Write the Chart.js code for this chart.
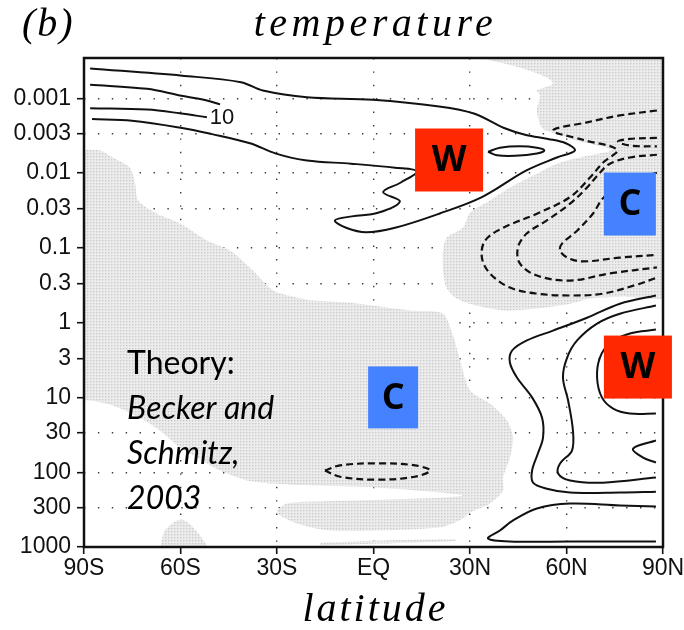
<!DOCTYPE html>
<html>
<head>
<meta charset="utf-8">
<script src="https://cdn.jsdelivr.net/npm/chart.js@4.4.1/dist/chart.umd.min.js"></script>
<style>
  html, body { margin: 0; padding: 0; background: #fff; }
</style>
</head>
<body>
<canvas id="chart" width="684" height="630"></canvas>
<script>
'use strict';

// axes
const latTicks = [-90, -60, -30, 0, 30, 60, 90];
const latLabels = ['90S', '60S', '30S', 'EQ', '30N', '60N', '90N'];
const pressureTicks = [0.001, 0.003, 0.01, 0.03, 0.1, 0.3, 1, 3, 10, 30, 100, 300, 1000];
const pressureLabels = ['0.001', '0.003', '0.01', '0.03', '0.1', '0.3', '1', '3', '10', '30', '100', '300', '1000'];
const pressureTop = 0.00029;
const pressureBottom = 1000;

// solid contours, [latitude, pressure]
const tongueOuter = [
  [-88.1, 0.0004], [-59.5, 0.0005], [-41.2, 0.00061], [-34.4, 0.00079], [-20.7, 0.00097],
  [-0.2, 0.00105], [20.4, 0.00129], [31.2, 0.0016], [40.6, 0.0025], [47.4, 0.0031],
  [54.3, 0.0035], [59.8, 0.004], [62.6, 0.005], [57.0, 0.0062], [47.4, 0.0093],
  [33.7, 0.021], [20.4, 0.035], [6.7, 0.054], [-2.3, 0.062], [-8.5, 0.054],
  [-12.0, 0.043], [-6.7, 0.038], [1.4, 0.034], [8.2, 0.024], [3.0, 0.018],
  [8.5, 0.0134], [13.5, 0.0095], [6.7, 0.0085], [-7.0, 0.0075], [-20.7, 0.0068],
  [-30.3, 0.0055], [-38.4, 0.004], [-50.5, 0.003], [-59.5, 0.0025], [-75.1, 0.002],
  [-87.5, 0.0019]
];
const hairpinUpper = [[-88.1, 0.00066], [-70.4, 0.00075], [-60.2, 0.00092], [-51.8, 0.00107], [-47.7, 0.00121]];
const hairpinLower = [[-51.8, 0.0018], [-60.2, 0.00159], [-70.4, 0.00142], [-88.1, 0.00136]];
const tipLoop = [
  [35.6, 0.0052], [39.3, 0.0046], [45.5, 0.0044], [50.8, 0.0046], [53.1, 0.005],
  [50.8, 0.0055], [44.0, 0.0059], [38.4, 0.0058], [35.6, 0.0052]
];
const solidOuter = [
  [87.8, 0.434], [76.6, 0.56], [66.4, 0.86], [55.8, 1.28], [47.7, 1.73], [43.1, 2.36],
  [42.4, 3.41], [44.6, 5.42], [49.3, 10.0], [52.4, 18.7], [52.7, 34.4], [51.1, 56.2],
  [49.3, 94.9], [49.6, 138], [53.9, 166], [61.1, 187], [76.6, 187], [87.8, 182]
];
const solidSecond = [
  [87.8, 0.591], [76.6, 0.76], [69.5, 1.03], [63.3, 1.73], [60.2, 2.93], [58.9, 5.42],
  [60.5, 11.0], [62.0, 27.7], [61.7, 51.3], [58.0, 76.3], [57.4, 104], [61.1, 129],
  [71.3, 138], [87.8, 118]
];
const solidThird = [
  [87.8, 1.24], [79.7, 1.40], [73.5, 1.89], [70.4, 2.93], [69.5, 5.42], [71.0, 10.0],
  [74.5, 14.1], [79.7, 16.4], [87.8, 16.4]
];
const solidHook = [[87.8, 37.7], [80.7, 48.4], [83.8, 63.8], [87.8, 74.3]];
const solidBottom = [
  [87.8, 288], [76.6, 279], [61.1, 263], [50.8, 306], [43.4, 442], [39.3, 602],
  [35.6, 770], [42.4, 845], [61.1, 845], [87.8, 845]
];

// dashed contours
const dashOuter = [
  [88.1, 0.00146], [76.6, 0.0017], [66.4, 0.0021], [55.8, 0.0027], [65.1, 0.0036],
  [75.7, 0.0049], [71.3, 0.0073], [67.3, 0.0115], [61.1, 0.021], [50.8, 0.035],
  [40.3, 0.054], [34.7, 0.080], [33.7, 0.135], [36.2, 0.22], [42.4, 0.34],
  [50.8, 0.41], [61.1, 0.434], [71.3, 0.41], [81.9, 0.31], [88.1, 0.25]
];
const dashHairpin = [[88.1, 0.0034], [79.7, 0.0035], [76.0, 0.0038], [79.7, 0.0043], [88.1, 0.0044]];
const dashMiddle = [
  [88.1, 0.0057], [79.7, 0.0062], [73.5, 0.0075], [70.4, 0.0099], [66.4, 0.0156],
  [61.1, 0.0257], [53.9, 0.043], [47.7, 0.064], [44.9, 0.099], [45.5, 0.162],
  [50.8, 0.235], [61.1, 0.274], [73.5, 0.22], [88.1, 0.183]
];
const dashInner = [
  [88.1, 0.0099], [79.7, 0.0126], [71.7, 0.021], [68.2, 0.035], [63.3, 0.059],
  [58.6, 0.088], [58.0, 0.109], [60.2, 0.135], [65.1, 0.152], [76.6, 0.135], [88.1, 0.124]
];
const dashLoop = [
  [-15.1, 95], [-10.4, 81], [1.1, 76], [12.9, 81], [17.6, 95],
  [12.9, 115], [1.1, 126], [-10.4, 115], [-15.1, 95]
];

// shaded (negative) regions
const shadeNorth = [
  [30, 0.00025], [93, 0.00025], [93, 0.41], [76.6, 0.45], [67.3, 0.475], [61.1, 0.56],
  [50.8, 0.65], [40.3, 0.689], [30.0, 0.56], [25.3, 0.46], [22.8, 0.35], [21.6, 0.201],
  [21.6, 0.109], [22.8, 0.073], [27.8, 0.054], [30.0, 0.034], [36.2, 0.0233], [42.4, 0.0156],
  [50.8, 0.0102], [57.0, 0.0075], [64.2, 0.0062], [74.1, 0.0049], [64.2, 0.0038], [58.0, 0.0031],
  [52.4, 0.0025], [50.8, 0.00146], [51.8, 0.00092], [50.8, 0.00079], [55.8, 0.00064],
  [53.9, 0.00053], [45.5, 0.00039], [36.2, 0.00031]
];
const shadeSouth = [
  [-93, 0.0049], [-85.0, 0.005], [-81.0, 0.0062], [-75.7, 0.0085], [-74.1, 0.0138],
  [-73.2, 0.0233], [-67.3, 0.035], [-60.2, 0.047], [-51.8, 0.080], [-44.6, 0.109],
  [-37.5, 0.201], [-31.2, 0.372], [-23.8, 0.46], [-18.8, 0.507], [-8.2, 0.54],
  [2.0, 0.61], [11.3, 0.689], [21.6, 0.76], [24.7, 1.49], [26.9, 3.21], [30.0, 8.08],
  [36.2, 12.1], [41.5, 20.4], [43.4, 34.4], [42.4, 63.8], [40.3, 118], [40.3, 176],
  [36.2, 263], [30.0, 347], [27.8, 418], [20.7, 546], [2.0, 602], [-13.5, 602],
  [-22.9, 499], [-29.1, 379], [-30.0, 325], [-26.9, 263], [-18.8, 247], [2.0, 233],
  [20.7, 219], [27.8, 205], [20.7, 187], [2.0, 161], [-18.8, 151], [-31.2, 142],
  [-39.3, 129], [-47.7, 94.9], [-54.9, 63.8], [-60.2, 46.9], [-66.4, 27.7], [-72.6, 18.7],
  [-81.0, 12.8], [-88.1, 11.0], [-93, 11.0]
];
const shadeHill = [[-66.4, 1100], [-64.9, 602], [-61.7, 455], [-59.5, 430], [-57.0, 499], [-53.9, 702], [-50.8, 1100]];
const shadeSliver = [[-16.6, 880], [2.0, 819], [25.6, 789], [25.6, 830], [2.0, 900], [-16.6, 955]];

// overlay notes
const boxNotes = [
  { text: 'W', lat: 23.5, p: 0.0067, w: 68, h: 63, fill: '#ff2800' },
  { text: 'C', lat: 79.7, p: 0.026, w: 52, h: 63, fill: '#4482ff' },
  { text: 'W', lat: 82.2, p: 3.93, w: 68, h: 63, fill: '#ff2800' },
  { text: 'C', lat: 6.1, p: 10, w: 50, h: 62, fill: '#4482ff' }
];
const contourLabel = { text: '10', lat: -47.1, p: 0.00184 };
const theoryNote = { lat: -76.6, p: 4.8, lines: ['Theory:', 'Becker and', 'Schmitz,', '2003'] };

// light stipple like the scanned shading
function makeStipple() {
  const c = document.createElement('canvas');
  c.width = 3;
  c.height = 3;
  const g = c.getContext('2d');
  g.fillStyle = '#ececec';
  g.fillRect(0, 0, 3, 3);
  g.fillStyle = '#dcdcdc';
  g.fillRect(1, 0, 1, 1);
  g.fillRect(0, 1, 1, 1);
  g.fillStyle = '#cdcdcd';
  g.fillRect(0, 0, 1, 1);
  return g.createPattern(c, 'repeat');
}
const stipple = makeStipple();

function contour(points, dashed) {
  return {
    data: points,
    showLine: true,
    borderColor: '#111',
    borderWidth: dashed ? 2.2 : 2,
    borderDash: dashed ? [7, 4] : [],
    pointRadius: 0,
    tension: 0.35,
    fill: false,
    order: 1
  };
}

function shade(points) {
  return {
    data: points,
    showLine: true,
    borderColor: 'rgba(0,0,0,0)',
    borderWidth: 0,
    backgroundColor: stipple,
    pointRadius: 0,
    tension: 0.25,
    fill: 'shape',
    order: 5
  };
}

const overlay = {
  id: 'overlay',
  afterDraw(chart) {
    const { ctx, chartArea: a, scales: { x, y } } = chart;
    ctx.save();
    ctx.strokeStyle = '#111';
    ctx.lineWidth = 2.5;
    ctx.strokeRect(a.left, a.top, a.right - a.left, a.bottom - a.top);

    ctx.fillStyle = '#111';
    ctx.font = '22px "Liberation Sans"';
    ctx.textAlign = 'center';
    ctx.textBaseline = 'middle';
    ctx.fillText(contourLabel.text, x.getPixelForValue(contourLabel.lat), y.getPixelForValue(contourLabel.p));

    boxNotes.forEach(n => {
      const cx = x.getPixelForValue(n.lat);
      const cy = y.getPixelForValue(n.p);
      ctx.fillStyle = n.fill;
      ctx.fillRect(cx - n.w / 2, cy - n.h / 2, n.w, n.h);
      ctx.fillStyle = '#000';
      ctx.font = 'bold 36px "Open Sans"';
      ctx.fillText(n.text, cx, cy + 1);
    });

    ctx.textAlign = 'left';
    ctx.textBaseline = 'alphabetic';
    const tx = x.getPixelForValue(theoryNote.lat);
    const ty = y.getPixelForValue(theoryNote.p);
    theoryNote.lines.forEach((line, i) => {
      ctx.font = (i === 0 ? '' : 'italic ') + '32px Lato';
      ctx.fillText(line, tx, ty + i * 45);
    });

    // titles
    const mid = (a.left + a.right) / 2;
    ctx.font = 'italic 40px "Liberation Serif"';
    ctx.letterSpacing = '2px';
    ctx.fillText('(b)', 22, 36);
    ctx.textAlign = 'center';
    ctx.letterSpacing = '4.5px';
    ctx.fillText('temperature', mid + 2, 36);
    ctx.letterSpacing = '3px';
    ctx.fillText('latitude', mid + 2, 621);
    ctx.restore();
  }
};

function noPad(s) {
  s.paddingLeft = 0;
  s.paddingRight = 0;
  s.paddingTop = 0;
  s.paddingBottom = 0;
}

Chart.defaults.font.family = '"Liberation Sans", Arial, sans-serif';

new Chart(document.getElementById('chart'), {
  type: 'scatter',
  data: {
    datasets: [
      contour(tongueOuter), contour(hairpinUpper), contour(hairpinLower), contour(tipLoop),
      contour(solidOuter), contour(solidSecond), contour(solidThird), contour(solidHook), contour(solidBottom),
      contour(dashOuter, true), contour(dashHairpin, true), contour(dashMiddle, true),
      contour(dashInner, true), contour(dashLoop, true),
      shade(shadeNorth), shade(shadeSouth), shade(shadeHill), shade(shadeSliver)
    ]
  },
  options: {
    responsive: false,
    animation: false,
    events: [],
    layout: { padding: { top: 58, right: 21, bottom: 0, left: 0 } },
    plugins: { legend: { display: false }, tooltip: { enabled: false } },
    scales: {
      x: {
        type: 'linear',
        min: -90,
        max: 90,
        z: 1,
        afterBuildTicks: s => { s.ticks = latTicks.map(v => ({ value: v })); },
        afterFit: s => { s.height = 83; noPad(s); },
        ticks: {
          callback: (v, i) => latLabels[i],
          font: { size: 23 },
          color: '#111',
          padding: 1,
          maxRotation: 0,
          autoSkip: false
        },
        grid: { color: '#3a3a3a', lineWidth: 1.4, tickColor: '#111', tickWidth: 1.6, tickLength: 7 },
        border: { display: false, dash: [1.4, 12] }
      },
      y: {
        type: 'logarithmic',
        reverse: true,
        min: pressureTop,
        max: pressureBottom,
        z: 1,
        afterBuildTicks: s => { s.ticks = pressureTicks.map(v => ({ value: v })); },
        afterFit: s => { s.width = 84; noPad(s); },
        ticks: {
          callback: (v, i) => pressureLabels[i],
          font: { size: 23 },
          color: '#111',
          padding: 6,
          autoSkip: false
        },
        grid: { color: '#3a3a3a', lineWidth: 1.4, tickColor: '#111', tickWidth: 1.6, tickLength: 7 },
        border: { display: false, dash: [1.4, 12.5] }
      }
    }
  },
  plugins: [overlay]
});
</script>
</body>
</html>
